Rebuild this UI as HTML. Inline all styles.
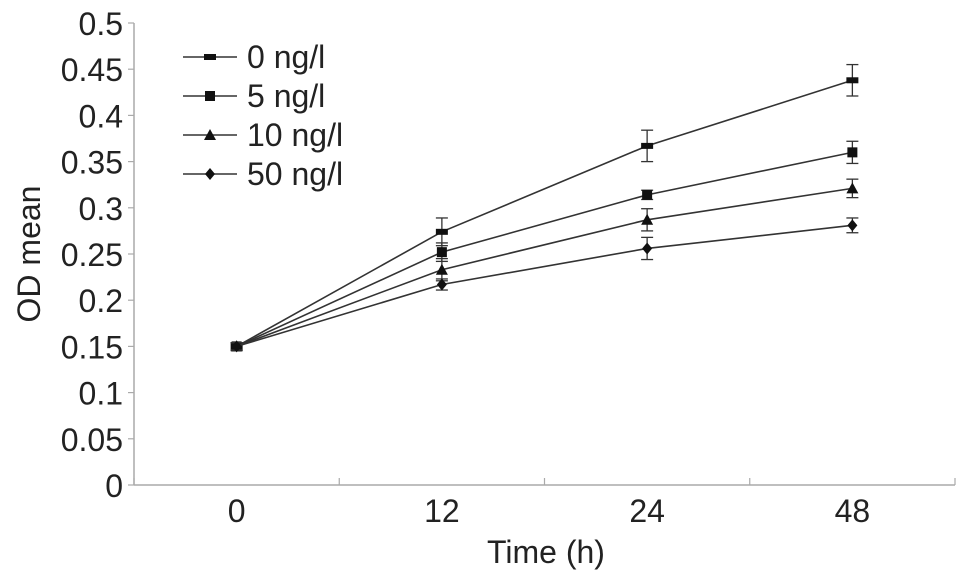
<!DOCTYPE html>
<html><head><meta charset="utf-8"><style>
body{margin:0;background:#fff}
svg{display:block;font-family:"Liberation Sans",Arial,sans-serif}
</style></head><body>
<svg id="chart" width="969" height="587">
<g id="axes"></g><g id="series"></g><g id="legend"></g>
</svg>
<script>
const categories=["0","12","24","48"];
const seriesNames=["0 ng/l","5 ng/l","10 ng/l","50 ng/l"];
const s0=[0.15,0.274,0.367,0.438];
const s5=[0.15,0.252,0.314,0.36];
const s10=[0.15,0.233,0.287,0.321];
const s50=[0.15,0.217,0.256,0.281];
const e0=[0.004,0.015,0.017,0.017];
const e5=[0.004,0.01,0.005,0.012];
const e10=[0.004,0.012,0.012,0.01];
const e50=[0.004,0.006,0.012,0.008];
const yTicks=[0,0.05,0.1,0.15,0.2,0.25,0.3,0.35,0.4,0.45,0.5];
const markers=["dash","square","triangle","diamond"];

const NS="http://www.w3.org/2000/svg";
const L=134,R=955,T=23,B=485,yMax=0.5;
const FS=32;
const bw=(R-L)/categories.length;
const x=i=>L+bw*(i+0.5);
const y=v=>B-(v/yMax)*(B-T);
function mk(t,a,p){const e=document.createElementNS(NS,t);for(const k in a)e.setAttribute(k,a[k]);p.appendChild(e);return e;}
const ax=document.getElementById('axes');
let el=mk('line',{x1:L,y1:T,x2:L,y2:B,stroke:'#aaa','stroke-width':1.5},ax);

el=mk('line',{x1:L,y1:B,x2:R,y2:B,stroke:'#aaa','stroke-width':1.5},ax);

yTicks.forEach(v=>{
 mk('line',{x1:L-6,y1:y(v),x2:L,y2:y(v),stroke:'#aaa','stroke-width':1.2},ax);
 const t=mk('text',{x:123,y:y(v)+12,'text-anchor':'end','font-size':FS,fill:'#222'},ax);
 t.textContent=String(v);
 
});
for(let i=0;i<=categories.length;i++){mk('line',{x1:L+bw*i,y1:B-7,x2:L+bw*i,y2:B,stroke:'#aaa','stroke-width':1.2},ax);}
categories.forEach((c,i)=>{
 const t=mk('text',{x:x(i),y:522,'text-anchor':'middle','font-size':FS,fill:'#222'},ax);
 t.textContent=c;
});
let t=mk('text',{x:546,y:563,'text-anchor':'middle','font-size':FS,fill:'#222'},ax);
t.textContent='Time (h)';
t=mk('text',{x:0,y:0,'text-anchor':'middle','font-size':FS,fill:'#222',transform:'translate(40,254) rotate(-90)'},ax);
t.textContent='OD mean';

function marker(type,cx,cy,p){
 if(type==='dash')return mk('rect',{x:cx-6,y:cy-3,width:12,height:6,fill:'#111'},p);
 if(type==='square')return mk('rect',{x:cx-5,y:cy-5,width:10,height:10,fill:'#111'},p);
 if(type==='triangle')return mk('polygon',{points:`${cx},${cy-6} ${cx+6},${cy+5} ${cx-6},${cy+5}`,fill:'#111'},p);
 return mk('polygon',{points:`${cx},${cy-6} ${cx+5},${cy} ${cx},${cy+6} ${cx-5},${cy}`,fill:'#111'},p);
}
const sg=document.getElementById('series');
const all=[s0,s5,s10,s50],errs=[e0,e5,e10,e50];
all.forEach((s,k)=>{
 const g=mk('g',{},sg);
 
 
 mk('polyline',{points:s.map((v,i)=>x(i)+','+y(v)).join(' '),fill:'none',stroke:'#333','stroke-width':1.6},g);
 s.forEach((v,i)=>{
  const e=errs[k][i],cx=x(i);
  mk('line',{x1:cx,y1:y(v+e),x2:cx,y2:y(v-e),stroke:'#333','stroke-width':1.3},g);
  mk('line',{x1:cx-6,y1:y(v+e),x2:cx+6,y2:y(v+e),stroke:'#333','stroke-width':1.3},g);
  mk('line',{x1:cx-6,y1:y(v-e),x2:cx+6,y2:y(v-e),stroke:'#333','stroke-width':1.3},g);
  const m=marker(markers[k],cx,y(v),g);
  
 });
});
const lg=document.getElementById('legend');
seriesNames.forEach((n,k)=>{
 const ly=57+k*39;
 const g=mk('g',{},lg);
 
 mk('line',{x1:183,y1:ly,x2:237,y2:ly,stroke:'#333','stroke-width':1.6},g);
 marker(markers[k],210,ly,g);
 const tx=mk('text',{x:247,y:ly+11,'font-size':FS,fill:'#222'},g);tx.textContent=n;
});
</script>
</body></html>
